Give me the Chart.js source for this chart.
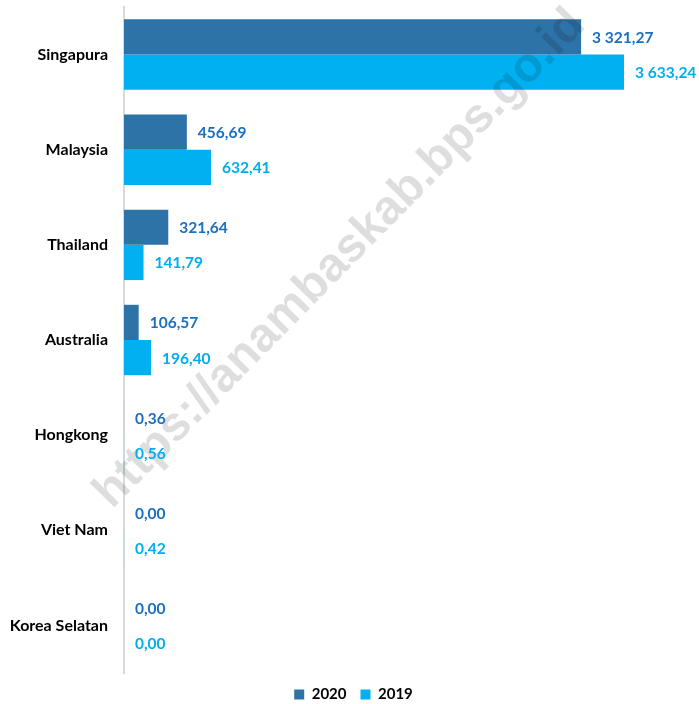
<!DOCTYPE html>
<html>
<head>
<meta charset="utf-8">
<script src="https://cdn.jsdelivr.net/npm/chart.js@4"></script>
<style>
  html, body { margin: 0; padding: 0; background: #fff; }
  #wrap { width: 699px; height: 704px; }
</style>
</head>
<body>
<div id="wrap"><canvas id="chart"></canvas></div>
<script>
// Chart labels
var categories = ['Singapura', 'Malaysia', 'Thailand', 'Australia', 'Hongkong', 'Viet Nam', 'Korea Selatan'];

// Chart data
var values2020 = [3321.27, 456.69, 321.64, 106.57, 0.36, 0.00, 0.00];
var values2019 = [3633.24, 632.41, 141.79, 196.40, 0.56, 0.42, 0.00];

// Value axis range
var xMin = 0;
var xMax = 4178;

// Define colors
var color2020 = '#2E73A7';
var color2019 = '#00B0F0';
var label2020 = '#1A6FBF';
var label2019 = '#00AEEF';

var fontFamily = 'Lato, "Open Sans", sans-serif';

function formatValue(v) {
  var parts = v.toFixed(2).split('.');
  var intPart = parts[0].replace(/\B(?=(\d{3})+(?!\d))/g, ' ');
  return intPart + ',' + parts[1];
}

// faint site watermark across the plot (over the bars)
var watermark = {
  id: 'watermark',
  afterDatasetsDraw: function (chart) {
    var ctx = chart.ctx;
    ctx.save();
    ctx.translate(340, 259);
    ctx.rotate(-45.5 * Math.PI / 180);
    ctx.font = 'bold 48px "Liberation Sans", Arial, sans-serif';
    ctx.fillStyle = 'rgba(0,0,0,0.13)';
    ctx.textAlign = 'center';
    ctx.textBaseline = 'middle';
    ctx.fillText('https://anambaskab.bps.go.id', 0, 0);
    ctx.restore();
  }
};

// value labels at the end of each bar
var valueLabels = {
  id: 'valueLabels',
  afterDatasetsDraw: function (chart) {
    var ctx = chart.ctx;
    ctx.save();
    ctx.font = 'bold 15.5px ' + fontFamily;
    ctx.textAlign = 'left';
    ctx.textBaseline = 'middle';
    chart.data.datasets.forEach(function (ds, i) {
      var meta = chart.getDatasetMeta(i);
      ctx.fillStyle = i === 0 ? label2020 : label2019;
      meta.data.forEach(function (bar, j) {
        ctx.fillText(formatValue(ds.data[j]), bar.x + 11, bar.y + 1);
      });
    });
    ctx.restore();
  }
};

var data = {
  labels: categories,
  datasets: [
    { label: '2020', data: values2020, backgroundColor: color2020, borderWidth: 0 },
    { label: '2019', data: values2019, backgroundColor: color2019, borderWidth: 0 }
  ]
};

var config = {
  type: 'bar',
  data: data,
  options: {
    indexAxis: 'y',
    responsive: true,
    maintainAspectRatio: false,
    animation: false,
    categoryPercentage: 0.74,
    barPercentage: 1.0,
    layout: {
      padding: { left: 8, right: 0, top: 7, bottom: -8 }
    },
    plugins: {
      title: { display: false },
      tooltip: { enabled: false },
      legend: {
        display: true,
        position: 'bottom',
        labels: {
          boxWidth: 10,
          boxHeight: 10,
          padding: 14,
          color: '#000',
          font: { family: fontFamily, size: 15, weight: 'bold' }
        }
      }
    },
    scales: {
      x: {
        display: false,
        min: xMin,
        max: xMax
      },
      y: {
        grid: { display: false },
        border: { display: true, color: '#D9D9D9', width: 2 },
        ticks: {
          color: '#000',
          padding: 8,
          font: { family: fontFamily, size: 16, weight: 'bold' }
        },
        afterFit: function (scale) {
          scale.width = 116;
          scale.paddingTop = 0;
          scale.paddingBottom = 0;
        }
      }
    }
  },
  plugins: [watermark, valueLabels]
};

var myChart = new Chart(document.getElementById('chart'), config);
</script>
</body>
</html>
